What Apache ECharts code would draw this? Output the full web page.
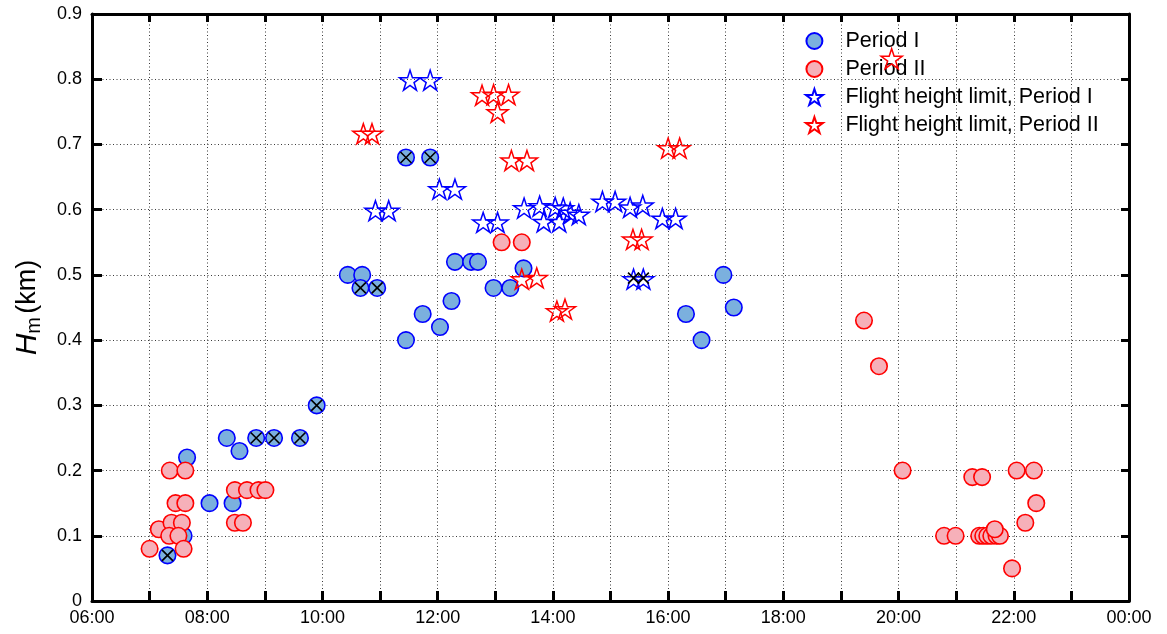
<!DOCTYPE html>
<html>
<head>
<meta charset="utf-8">
<script src="https://cdn.jsdelivr.net/npm/echarts@6/dist/echarts.min.js"></script>
<style>
html,body{margin:0;padding:0;background:#fff;}
#chart{width:1167px;height:634px;}
</style>
</head>
<body>
<div id="chart"></div>
<script>
// Time in hours of day, height in km
const periodI = [
  [7.65,0.22],[7.59,0.10],[8.04,0.15],[8.34,0.25],[8.44,0.15],[8.56,0.23],
  [10.44,0.50],[10.69,0.50],[11.45,0.40],[11.74,0.44],[12.04,0.42],[12.24,0.46],
  [12.30,0.52],[12.58,0.52],[12.70,0.52],[12.97,0.48],[13.26,0.48],[13.49,0.51],
  [16.31,0.44],[16.58,0.40],[16.96,0.50],[17.14,0.45]
];
const periodIFlagged = [
  [7.31,0.07],[8.85,0.25],[9.16,0.25],[9.61,0.25],[9.90,0.30],
  [10.66,0.48],[10.95,0.48],[11.45,0.68],[11.87,0.68]
];
const periodII = [
  [7.00,0.08],[7.16,0.11],[7.35,0.20],[7.62,0.20],[7.45,0.15],[7.62,0.15],
  [7.38,0.12],[7.56,0.12],[7.34,0.10],[7.50,0.10],[7.59,0.08],
  [8.48,0.17],[8.69,0.17],[8.89,0.17],[9.01,0.17],[8.48,0.12],[8.62,0.12],
  [13.11,0.55],[13.46,0.55],
  [19.40,0.43],[19.66,0.36],[20.07,0.20],[21.28,0.19],[21.45,0.19],
  [22.05,0.20],[22.35,0.20],[22.39,0.15],[22.20,0.12],[20.79,0.10],[20.99,0.10],
  [21.40,0.10],[21.47,0.10],[21.54,0.10],[21.61,0.10],[21.70,0.10],[21.76,0.10],
  [21.67,0.11],[21.97,0.05]
];
const limitI = [
  [10.92,0.60],[11.15,0.60],[11.52,0.80],[11.87,0.80],[12.03,0.633],[12.30,0.633],
  [12.79,0.582],[13.04,0.582],
  [13.50,0.604],[13.77,0.607],[13.84,0.583],[14.04,0.605],[14.11,0.583],
  [14.18,0.604],[14.30,0.597],[14.45,0.594],
  [14.86,0.614],[15.08,0.614],[15.34,0.605],[15.56,0.608],[15.90,0.588],[16.13,0.588]
];
const limitIFlagged = [
  [15.40,0.495],[15.57,0.495]
];
const limitII = [
  [10.71,0.718],[10.86,0.718],[12.77,0.777],[12.97,0.778],[13.23,0.778],[13.04,0.751],
  [13.28,0.677],[13.55,0.677],[13.46,0.495],[13.72,0.497],[14.07,0.446],[14.21,0.449],
  [15.39,0.556],[15.54,0.556],[16.00,0.696],[16.20,0.696],[19.88,0.833]
];
const xTickHours = [6,8,10,12,14,16,18,20,22,24];
const yLabel = 'H';

const STAR = 'path://M100,0L122.45,69.1L195.1,69.1L136.3,111.8L158.8,180.9L100,138.2L41.2,180.9L63.7,111.8L4.9,69.1L77.55,69.1Z';
const CROSS = 'path://M0,0L10,10M10,0L0,10';

const chart = echarts.init(document.getElementById('chart'), null, {renderer:'canvas'});
const FONT = 'Liberation Sans, Arial, Helvetica, sans-serif';
const gridLine = {show:true, lineStyle:{color:'#3a3a3a', width:1, type:[1,2.5]}};

function fmtX(v){
  const h = Math.round(v);
  if (xTickHours.indexOf(h) < 0) return '';
  const hh = h % 24;
  return (hh < 10 ? '0' : '') + hh + ':00';
}

chart.setOption({
  backgroundColor:'#fff',
  animation:false,
  grid:{left:92, right:38, top:14, bottom:33, containLabel:false},
  legend:{
    orient:'vertical', left:805, top:30, padding:0,
    itemWidth:52, itemHeight:16, itemGap:6,
    data:['Period I','Period II','Flight height limit, Period I','Flight height limit, Period II'],
    textStyle:{fontFamily:FONT, fontSize:21.5, color:'#000', lineHeight:22}
  },
  xAxis:[{
    type:'value', min:6, max:24, interval:1, position:'bottom',
    axisLine:{show:true, onZero:false, lineStyle:{color:'#000', width:3}},
    axisTick:{show:true, inside:true, length:10, lineStyle:{color:'#000', width:3}},
    axisLabel:{formatter:fmtX, color:'#000', fontFamily:FONT, fontSize:18, margin:8, showMinLabel:true, showMaxLabel:true},
    splitLine:gridLine
  },{
    type:'value', min:6, max:24, interval:1, position:'top',
    axisLine:{show:true, onZero:false, lineStyle:{color:'#000', width:3}},
    axisTick:{show:true, inside:true, length:8, lineStyle:{color:'#000', width:3}},
    axisLabel:{show:false}, splitLine:{show:false}
  }],
  yAxis:[{
    type:'value', min:0, max:0.9, interval:0.1, position:'left',
    axisLine:{show:true, onZero:false, lineStyle:{color:'#000', width:3}},
    axisTick:{show:true, inside:true, length:10, lineStyle:{color:'#000', width:3}},
    axisLabel:{formatter:function(v){const r=Math.round(v*10)/10; return r===0?'0':r.toFixed(1);}, color:'#000', fontFamily:FONT, fontSize:18, margin:10},
    splitLine:gridLine,
    name:'{i|' + yLabel + '}{s|m} {n|(km)}',
    nameLocation:'middle', nameRotate:90, nameGap:48,
    nameTextStyle:{
      rich:{
        i:{fontFamily:FONT, fontStyle:'italic', fontSize:30, color:'#000'},
        s:{fontFamily:FONT, fontSize:20, color:'#000', verticalAlign:'bottom', padding:[12,0,0,0]},
        n:{fontFamily:FONT, fontSize:27, color:'#000'}
      }
    }
  },{
    type:'value', min:0, max:0.9, interval:0.1, position:'right',
    axisLine:{show:true, onZero:false, lineStyle:{color:'#000', width:3}},
    axisTick:{show:true, inside:true, length:8, lineStyle:{color:'#000', width:3}},
    axisLabel:{show:false}, splitLine:{show:false}
  }],
  series:[
    {name:'Period I', type:'scatter', symbol:'circle', symbolSize:16.5,
     data:periodI.concat(periodIFlagged),
     itemStyle:{color:'#7BB0DE', borderColor:'#0000FF', borderWidth:1.6, opacity:1}, z:2},
    {name:'Period II', type:'scatter', symbol:'circle', symbolSize:16.5,
     data:periodII,
     itemStyle:{color:'#F6B0B9', borderColor:'#FF0000', borderWidth:1.6, opacity:1}, z:3},
    {name:'Flight height limit, Period I', type:'scatter', symbol:STAR, symbolSize:21, symbolKeepAspect:true,
     symbolOffset:[0,1],
     data:limitI.concat(limitIFlagged),
     itemStyle:{color:'rgba(0,0,0,0)', borderColor:'#0000FF', borderWidth:1.5, opacity:1}, z:4},
    {name:'Flight height limit, Period II', type:'scatter', symbol:STAR, symbolSize:21, symbolKeepAspect:true,
     symbolOffset:[0,1],
     data:limitII,
     itemStyle:{color:'rgba(0,0,0,0)', borderColor:'#FF0000', borderWidth:1.5, opacity:1}, z:5},
    {name:'flagged', type:'scatter', symbol:CROSS, symbolSize:11,
     data:periodIFlagged.concat(limitIFlagged), silent:true,
     itemStyle:{color:'rgba(0,0,0,0)', borderColor:'#000', borderWidth:1.6, opacity:1}, z:6}
  ]
});
</script>
</body>
</html>
